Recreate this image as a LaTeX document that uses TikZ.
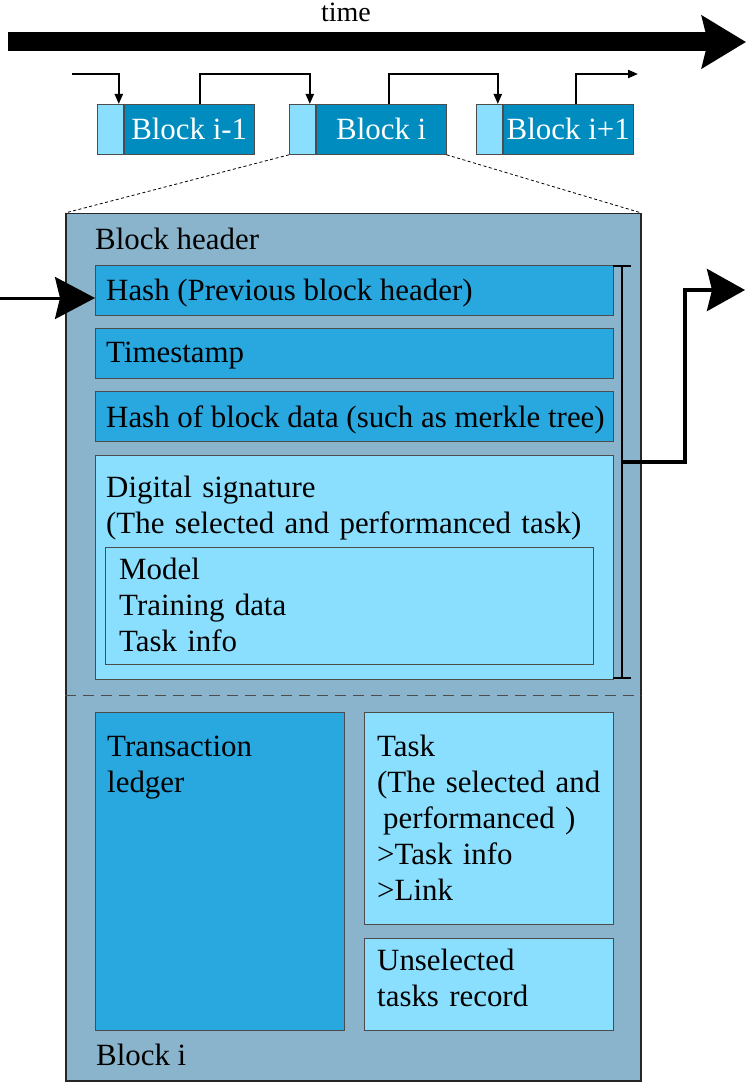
\documentclass[tikz,border=0pt]{standalone}
\usepackage{fontspec}
\setmainfont{Liberation Serif}
\usetikzlibrary{arrows.meta, positioning}
\definecolor{panelgray}{RGB}{137,180,203}
\definecolor{hashblue}{RGB}{41,168,224}
\definecolor{paleblue}{RGB}{138,223,255}
\definecolor{chainblue}{RGB}{0,140,191}
\newcommand{\bigfont}{\rmfamily\fontsize{30.9pt}{36pt}\selectfont}

\begin{document}
\begin{tikzpicture}[x=1pt, y=-1pt,
  box/.style={draw=black!70, line width=0.8pt, rectangle, anchor=north west, inner sep=0pt},
  txt/.style={font=\bigfont, anchor=base west, inner sep=0pt, align=left},
  link/.style={line width=2pt, -{Triangle[length=10pt, width=8pt]}},
  fatlink/.style={line width=3pt, -{Stealth[length=40pt, width=42pt, inset=5pt]}}]

  \useasboundingbox (0,0) rectangle (748,1083);

  % Time axis
  \draw[line width=19pt, -{Stealth[length=44pt, width=52pt, inset=6pt]}] (8,42) -- (746,42);
  \node[txt, anchor=base, font=\rmfamily\fontsize{28pt}{32pt}\selectfont] (timelbl) at (346,22) {time};

  % Chain of blocks
  \node[box, fill=paleblue, minimum width=26pt, minimum height=50pt] (bim1l) at (97,104) {};
  \node[box, fill=chainblue, minimum width=130pt, minimum height=50pt, text=white, font=\bigfont, right=0pt of bim1l] (bim1d) {Block i-1};
  \node[box, fill=paleblue, minimum width=26pt, minimum height=50pt] (bil) at (289,104) {};
  \node[box, fill=chainblue, minimum width=130pt, minimum height=50pt, text=white, font=\bigfont, right=0pt of bil] (bid) {Block i};
  \node[box, fill=paleblue, minimum width=26pt, minimum height=50pt] (bip1l) at (476,104) {};
  \node[box, fill=chainblue, minimum width=130pt, minimum height=50pt, text=white, font=\bigfont, right=0pt of bip1l] (bip1d) {Block i+1};

  \coordinate (feed) at (72,74);
  \coordinate (next) at (638,74);
  \draw[link] (feed) -| ([xshift=-5pt]bim1l.north east);
  \draw[link] ([xshift=76pt]bim1d.north west) -- ++(0,-30) -| ([xshift=-6pt]bil.north east);
  \draw[link] ([xshift=73pt]bid.north west) -- ++(0,-30) -| ([xshift=-5pt]bip1l.north east);
  \draw[link] ([xshift=73pt]bip1d.north west) |- (next);

  % Block i in detail
  \node[box, fill=panelgray, draw=black!85, line width=1.5pt, minimum width=575pt, minimum height=867pt] (panel) at (65,213) {};
  \draw[line width=0.8pt, dash pattern=on 3pt off 2.5pt] (bil.south west) -- (panel.north west);
  \draw[line width=0.8pt, dash pattern=on 3pt off 2.5pt] (bid.south east) -- (panel.north east);

  \node[txt] (hdrlbl) at (95,250) {Block header};

  \node[box, fill=hashblue, minimum width=518pt, minimum height=50pt] (prevhash) at (95,265) {};
  \node[txt] at ([xshift=11pt, yshift=-10pt]prevhash.west) {Hash (Previous block header)};
  \node[box, fill=hashblue, minimum width=518pt, minimum height=50pt] (stamp) at (95,328) {};
  \node[txt] at ([xshift=11pt, yshift=-9pt]stamp.west) {Timestamp};
  \node[box, fill=hashblue, minimum width=518pt, minimum height=50pt] (datahash) at (95,391) {};
  \node[txt] at ([xshift=11pt, yshift=-11pt]datahash.west) {Hash of block data (such as merkle tree)};

  \node[box, fill=paleblue, minimum width=518pt, minimum height=224pt] (sigbox) at (95,455) {};
  \node[txt, text width=500pt] (siglbl) at ([xshift=11pt, yshift=-42pt]sigbox.north west)
    {Digital signature\\(The selected and performanced task)};
  \node[box, minimum width=488pt, minimum height=117pt] (contents) at (105,547) {};
  \node[txt, text width=460pt] (contentlbl) at ([xshift=14pt, yshift=-32pt]contents.north west)
    {Model\\Training data\\Task info};

  % Header bracket
  \draw[line width=2.5pt] (613,266) -- (631,266);
  \draw[line width=2.5pt] (613,678) -- (631,678);
  \draw[line width=2.5pt] (622,266) -- (622,678);
  \coordinate (hdrout) at (622,462);

  \draw[line width=1pt, draw=black!70, dash pattern=on 11pt off 7pt] (panel.west |- 0,695) -- (panel.east |- 0,695);

  % Block body
  \node[box, fill=hashblue, minimum width=249pt, minimum height=318pt] (ledger) at (95,712) {};
  \node[txt, text width=230pt] (ledgerlbl) at ([xshift=12pt, yshift=-44pt]ledger.north west)
    {Transaction\\ledger};
  \node[box, fill=paleblue, minimum width=249pt, minimum height=212pt] (task) at (364,712) {};
  \node[txt, text width=236pt] (tasklbl) at ([xshift=13pt, yshift=-44pt]task.north west)
    {Task\\(The selected and\\\hspace*{6pt}performanced )\\>Task info\\>Link};
  \node[box, fill=paleblue, minimum width=249pt, minimum height=92pt] (unsel) at (364,938) {};
  \node[txt, text width=236pt] (unsellbl) at ([xshift=13pt, yshift=-32pt]unsel.north west)
    {Unselected\\tasks record};

  \node[txt] (paneltitle) at (96,1065) {Block i};

  % Links in and out of the header
  \coordinate (inlet) at (0,298);
  \draw[fatlink] (inlet) -- (inlet -| prevhash.west);
  \coordinate (outlet) at (745,290);
  \draw[line width=4pt, -{Stealth[length=38pt, width=42pt, inset=5pt]}] (hdrout) -| (685,290) -- (outlet);
\end{tikzpicture}
\end{document}
